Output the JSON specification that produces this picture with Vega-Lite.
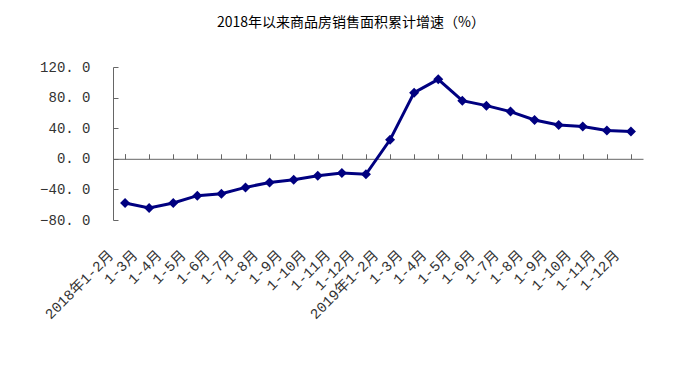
{
  "$schema": "https://vega.github.io/schema/vega-lite/v6.json",
  "autosize": "none",
  "padding": {"left": 113, "top": 67, "right": 57, "bottom": 145},
  "width": 530,
  "height": 153,
  "background": "white",
  "config": {"view": {"stroke": null}},
  "title": {
    "text": "2018年以来商品房销售面积累计增速（%）",
    "font": "Noto Sans CJK SC",
    "fontSize": 14,
    "fontWeight": "normal",
    "color": "#000000",
    "anchor": "middle",
    "offset": 30,
    "dx": -27
  },
  "data": {
    "values": [
      {"m": "2018年1-2月", "v": -57.8},
      {"m": "2018年1-3月", "v": -64.3},
      {"m": "2018年1-4月", "v": -57.8},
      {"m": "2018年1-5月", "v": -48.2},
      {"m": "2018年1-6月", "v": -45.6},
      {"m": "2018年1-7月", "v": -37.4},
      {"m": "2018年1-8月", "v": -30.9},
      {"m": "2018年1-9月", "v": -27.4},
      {"m": "2018年1-10月", "v": -22.2},
      {"m": "2018年1-11月", "v": -18.7},
      {"m": "2018年1-12月", "v": -20.3},
      {"m": "2019年1-2月", "v": 24.8},
      {"m": "2019年1-3月", "v": 86.5},
      {"m": "2019年1-4月", "v": 103.9},
      {"m": "2019年1-5月", "v": 76.0},
      {"m": "2019年1-6月", "v": 69.5},
      {"m": "2019年1-7月", "v": 61.7},
      {"m": "2019年1-8月", "v": 50.8},
      {"m": "2019年1-9月", "v": 44.3},
      {"m": "2019年1-10月", "v": 42.1},
      {"m": "2019年1-11月", "v": 36.9},
      {"m": "2019年1-12月", "v": 35.6}
    ]
  },
  "encoding": {
    "y": {
      "field": "v",
      "type": "quantitative",
      "scale": {"domain": [-80, 120], "nice": false, "zero": false},
      "axis": {
        "title": null,
        "values": [-80, -40, 0, 40, 80, 120],
        "grid": false,
        "domainColor": "#666666",
        "domainWidth": 1,
        "tickColor": "#666666",
        "tickSize": -5,
        "labelPadding": 28,
        "labelFont": "Liberation Mono",
        "labelFontSize": 14,
        "labelColor": "#333333",
        "labelExpr": "replace(format(datum.value, '.1f'), '.', '. ')"
      }
    }
  },
  "layer": [
    {
      "mark": {"type": "line", "opacity": 0},
      "encoding": {
        "x": {
          "field": "m",
          "type": "nominal",
          "sort": null,
          "scale": {"paddingInner": 0, "paddingOuter": 0},
          "axis": {
            "orient": "top",
            "offset": -91.8,
            "labels": false,
            "title": null,
            "domain": true,
            "domainColor": "#666666",
            "ticks": true,
            "tickColor": "#666666",
            "tickSize": 5,
            "bandPosition": 1,
            "tickExtra": true,
            "grid": false
          }
        }
      }
    },
    {
      "mark": {
        "type": "line",
        "color": "#000080",
        "strokeWidth": 3,
        "point": {"shape": "diamond", "size": 100, "filled": true, "color": "#000080"}
      },
      "encoding": {
        "x": {
          "field": "m",
          "type": "nominal",
          "sort": null,
          "axis": {
            "orient": "bottom",
            "title": null,
            "domain": false,
            "ticks": false,
            "grid": false,
            "labelAngle": -45,
            "labelAlign": "right",
            "labelBaseline": "middle",
            "labelPadding": 33,
            "labelOffset": -14,
            "labelFont": "Liberation Mono, Noto Sans CJK SC",
            "labelFontSize": 14.5,
            "labelColor": "#333333",
            "labelExpr": "indexof(datum.label, '1-2月') >= 0 ? datum.label : substring(datum.label, 5)"
          }
        }
      }
    }
  ]
}
